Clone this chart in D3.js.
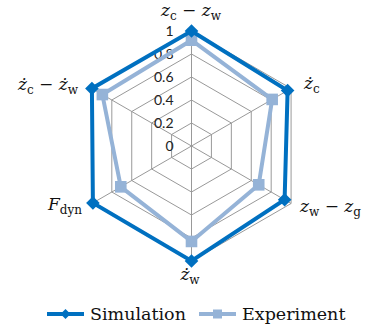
<!DOCTYPE html>
<html><head><meta charset="utf-8">
<script src="https://cdn.jsdelivr.net/npm/d3@7"></script>
<style>body{margin:0;background:#fff}svg{display:block}</style>
</head><body>
<svg id="c" width="366" height="324"></svg>
<script>
const axesLabels = ["zc-zw","dzc","zw-zg","dzw","Fdyn","dzc-dzw"];
const simulation = [1.0, 0.965, 0.935, 1.0, 0.99, 1.0];
const experiment = [0.92, 0.81, 0.675, 0.83, 0.71, 0.895];
const ticks = [0, 0.2, 0.4, 0.6, 0.8, 1];
const seriesNames = ["Simulation", "Experiment"];

const svg = d3.select("#c");
const cx = 191.5, cy = 146;
const r = d3.scaleLinear().domain([0, 1]).range([0, 115]);
const ang = d3.scaleLinear().domain([0, axesLabels.length]).range([0, 2 * Math.PI]);
const g = svg.append("g").attr("transform", `translate(${cx},${cy})`);
const px = (i, v) => r(v) * Math.sin(ang(i));
const py = (i, v) => -r(v) * Math.cos(ang(i));

// grid rings
const ringLine = d3.lineRadial().angle((d, i) => ang(i)).radius(d => r(d)).curve(d3.curveLinearClosed);
ticks.filter(t => t > 0).forEach(t => {
  g.append("path").attr("d", ringLine(axesLabels.map(() => t)))
    .attr("fill", "none").attr("stroke", "#999").attr("stroke-width", 1);
});
axesLabels.forEach((a, i) => {
  g.append("line").attr("x1", 0).attr("y1", 0).attr("x2", px(i, 1)).attr("y2", py(i, 1))
    .attr("stroke", "#999").attr("stroke-width", 1);
});

// tick labels
ticks.forEach(t => {
  g.append("text").attr("x", -18).attr("y", -r(t) + 5).attr("text-anchor", "end")
    .attr("font-family", "Lato, 'Open Sans', sans-serif").attr("font-size", 14).attr("fill", "#222")
    .text(d3.format("~g")(t));
});

const colors = ["#0070C0", "#95B3D7"];
const dataSets = [simulation, experiment];
const diamond = s => `M0,${-s}L${s},0L0,${s}L${-s},0Z`;
const square = s => `M${-s},${-s}H${s}V${s}H${-s}Z`;

[1, 0].forEach(k => {
  const d = dataSets[k];
  g.append("path").attr("d", ringLine(d)).attr("fill", "none")
    .attr("stroke", colors[k]).attr("stroke-width", 4).attr("stroke-linejoin", "miter");
  g.selectAll(null).data(d).enter().append("path")
    .attr("transform", (v, i) => `translate(${px(i, v)},${py(i, v)})`)
    .attr("d", k === 0 ? diamond(6.8) : square(5.8))
    .attr("fill", colors[k]);
});

// axis labels (math-like)
const lbl = [
  {x: 191, y: 16, anchor: "middle", parts: [["z","i"],["c","s"],[" − ","n"],["z","i"],["w","s"]]},
  {x: 304, y: 89, anchor: "start", parts: [["ż","i"],["c","s"]]},
  {x: 300, y: 212, anchor: "start", parts: [["z","i"],["w","s"],[" − ","n"],["z","i"],["g","s"]]},
  {x: 190, y: 280, anchor: "middle", parts: [["ż","i"],["w","s"]]},
  {x: 82, y: 210, anchor: "end", parts: [["F","i"],["dyn","s"]]},
  {x: 78, y: 90, anchor: "end", parts: [["ż","i"],["c","s"],[" − ","n"],["ż","i"],["w","s"]]}
];
lbl.forEach(L => {
  const t = svg.append("text").attr("x", L.x).attr("y", L.y).attr("text-anchor", L.anchor)
    .attr("font-family", "'DejaVu Serif', serif").attr("font-size", 17).attr("fill", "#111");
  let sub = false;
  L.parts.forEach(([s, m]) => {
    const sp = t.append("tspan").text(s);
    if (m === "s") { sp.attr("font-size", 12).attr("dy", sub ? 0 : 4); sub = true; }
    else {
      if (m === "i") sp.attr("font-style", "italic");
      sp.attr("dy", sub ? -4 : 0); sub = false;
    }
  });
});

// legend
const leg = svg.append("g").attr("transform", "translate(0,314)");
const legX = [[47, 84, 90], [199, 236, 242]];
seriesNames.forEach((n, k) => {
  const [x1, x2, tx] = legX[k];
  leg.append("line").attr("x1", x1).attr("x2", x2).attr("y1", 0).attr("y2", 0)
    .attr("stroke", colors[k]).attr("stroke-width", 4);
  leg.append("path").attr("transform", `translate(${(x1 + x2) / 2},0)`)
    .attr("d", k === 0 ? diamond(5) : square(4.5)).attr("fill", colors[k]);
  leg.append("text").attr("x", tx).attr("y", 6).attr("font-family", "'DejaVu Serif', serif")
    .attr("font-size", 17.5).attr("fill", "#111").text(n);
});
</script>
</body></html>
